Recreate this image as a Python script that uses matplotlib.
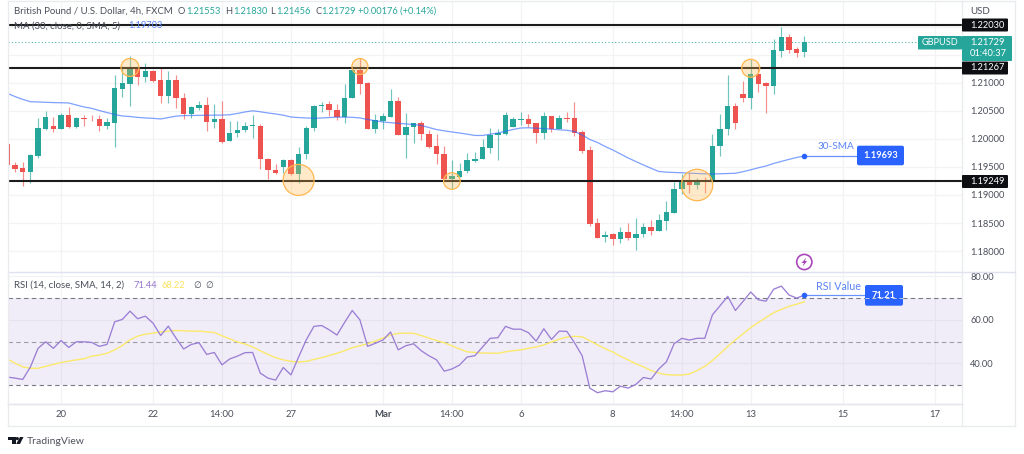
import matplotlib
matplotlib.use("Agg")
import matplotlib.pyplot as plt
from matplotlib.patches import FancyBboxPatch, Rectangle, Polygon, Circle

plt.rcParams['font.family'] = ['Lato', 'DejaVu Sans']

# ---- data -------------------------------------------------------------
opens = [1.19909,1.19535,1.19481,1.19410,1.19695,1.20177,1.20235,1.20177,1.20426,1.20212,
1.20378,1.20360,1.20355,1.20235,1.20284,1.20895,1.20984,1.21276,1.21103,1.21205,
1.21050,1.20765,1.21050,1.20734,1.20439,1.20551,1.20604,1.20296,1.20350,1.19968,
1.20100,1.20159,1.20230,1.20235,1.19647,1.19446,1.19505,1.19624,1.19374,1.19731,
1.20189,1.20587,1.20617,1.20515,1.20385,1.20724,1.21228,1.20991,1.20177,1.20319,
1.20396,1.20676,1.20070,1.20207,1.20278,1.20087,1.19874,1.19731,1.19280,1.19316,
1.19428,1.19612,1.19636,1.19843,1.20070,1.20087,1.20218,1.20342,1.20350,1.20278,
1.20100,1.20408,1.20171,1.20373,1.20367,1.20123,1.19802,1.18496,1.18246,1.18300,
1.18210,1.18335,1.18228,1.18305,1.18435,1.18364,1.18542,1.18685,1.19102,1.19244,
1.19184,1.19237,1.19237,1.19874,1.20171,1.20592,1.20795,1.20724,1.21162,1.20991,
1.20948,1.21567,1.21811,1.21603,1.21553]
highs = [1.19909,1.19583,1.19588,1.19731,1.20373,1.20497,1.20390,1.20462,1.20569,1.20390,
1.20426,1.20426,1.20426,1.20373,1.21139,1.21300,1.21478,1.21282,1.21353,1.21228,
1.21282,1.21216,1.21139,1.20818,1.20587,1.20676,1.20747,1.20622,1.20676,1.20325,
1.20325,1.20307,1.20426,1.20266,1.19660,1.19553,1.19636,1.19642,1.19850,1.20230,
1.20604,1.20663,1.20676,1.20622,1.20979,1.21300,1.21442,1.21020,1.20444,1.20467,
1.20884,1.20742,1.20456,1.20289,1.20319,1.20159,1.20087,1.19874,1.19624,1.19576,
1.19743,1.19761,1.19993,1.20189,1.20177,1.20474,1.20385,1.20480,1.20444,1.20289,
1.20485,1.20408,1.20426,1.20485,1.20652,1.20159,1.19874,1.18596,1.18364,1.18317,
1.18424,1.18496,1.18585,1.18496,1.18554,1.18661,1.18893,1.19237,1.19374,1.19398,
1.19303,1.19321,1.20087,1.20444,1.21139,1.20645,1.21032,1.21419,1.21287,1.21020,
1.21775,1.22000,1.21870,1.21644,1.21830]
lows = [1.19535,1.19415,1.19161,1.19214,1.19660,1.20159,1.20123,1.20168,1.20194,1.20194,
1.20235,1.20319,1.20141,1.20177,1.19856,1.20752,1.20587,1.20966,1.21020,1.21020,
1.20640,1.20640,1.20556,1.20355,1.20373,1.20515,1.20146,1.20200,1.19922,1.19963,
1.20034,1.20128,1.20016,1.19458,1.19285,1.19374,1.19392,1.19357,1.19219,1.19636,
1.20141,1.20485,1.20414,1.20337,1.20278,1.20724,1.20795,1.20177,1.20111,1.20171,
1.20396,1.20070,1.19654,1.19932,1.19981,1.19843,1.19553,1.19280,1.19102,1.19316,
1.19398,1.19583,1.19636,1.19743,1.19624,1.20070,1.20207,1.20248,1.20218,1.19922,
1.19993,1.20128,1.20171,1.20307,1.20052,1.19754,1.18453,1.18228,1.18168,1.18109,
1.18150,1.18198,1.18020,1.18257,1.18287,1.18364,1.18376,1.18685,1.19018,1.19030,
1.19107,1.19041,1.19219,1.19701,1.20070,1.20171,1.20663,1.20533,1.20841,1.20467,
1.20800,1.21465,1.21537,1.21455,1.21456]
closes = [1.19535,1.19464,1.19410,1.19708,1.20194,1.20385,1.20177,1.20426,1.20212,1.20373,
1.20360,1.20346,1.20235,1.20301,1.20907,1.20997,1.21276,1.21109,1.21205,1.21037,
1.20765,1.21050,1.20734,1.20439,1.20563,1.20604,1.20296,1.20350,1.19950,1.20100,
1.20159,1.20230,1.20239,1.19642,1.19446,1.19387,1.19619,1.19369,1.19731,1.20189,
1.20592,1.20610,1.20515,1.20385,1.20734,1.21228,1.20979,1.20177,1.20337,1.20408,
1.20676,1.20070,1.20218,1.20278,1.20087,1.19861,1.19726,1.19280,1.19339,1.19433,
1.19624,1.19647,1.19850,1.20070,1.20100,1.20426,1.20350,1.20355,1.20266,1.20100,
1.20408,1.20171,1.20378,1.20350,1.20111,1.19790,1.18478,1.18239,1.18292,1.18210,
1.18335,1.18228,1.18305,1.18435,1.18364,1.18549,1.18692,1.19102,1.19250,1.19184,
1.19244,1.19226,1.19879,1.20177,1.20592,1.20289,1.20724,1.21162,1.20979,1.20948,
1.21579,1.21811,1.21590,1.21537,1.21729]
sma30 = [1.20811,1.20754,1.20704,1.20663,1.20658,1.20652,1.20647,1.20644,1.20640,1.20604,
1.20569,1.20544,1.20505,1.20469,1.20435,1.20408,1.20399,1.20383,1.20373,1.20366,
1.20355,1.20380,1.20405,1.20415,1.20417,1.20419,1.20421,1.20423,1.20424,1.20430,
1.20453,1.20480,1.20501,1.20483,1.20462,1.20444,1.20423,1.20390,1.20380,1.20373,
1.20367,1.20373,1.20380,1.20387,1.20387,1.20385,1.20373,1.20346,1.20323,1.20301,
1.20289,1.20278,1.20266,1.20257,1.20239,1.20203,1.20166,1.20144,1.20123,1.20105,
1.20084,1.20061,1.20061,1.20082,1.20105,1.20136,1.20168,1.20194,1.20198,1.20191,
1.20184,1.20173,1.20162,1.20153,1.20132,1.20070,1.19989,1.19936,1.19865,1.19802,
1.19731,1.19660,1.19597,1.19535,1.19476,1.19419,1.19407,1.19401,1.19396,1.19389,
1.19383,1.19378,1.19374,1.19378,1.19383,1.19387,1.19415,1.19449,1.19485,1.19517,
1.19562,1.19599,1.19635,1.19669,1.19693]
rsi = [33.7,33.2,32.6,38.3,46.9,49.9,46.9,50.5,47.3,49.9,49.9,49.6,47.8,48.7,59.1,60.2,64.0,60.5,61.7,58.5,
52.8,57.1,51.6,46.6,48.7,49.5,44.1,45.0,39.3,42.0,43.3,44.9,45.0,35.5,33.2,32.3,38.1,34.7,42.9,50.8,
57.0,57.4,55.4,53.0,58.8,64.3,60.0,47.8,49.2,50.7,54.4,46.2,48.1,49.0,45.8,43.5,41.6,36.4,37.4,39.2,
42.9,43.5,47.5,51.5,51.8,57.0,55.7,55.7,54.1,50.2,55.9,51.0,54.8,54.7,49.5,43.5,28.6,26.5,27.4,26.9,
29.5,28.6,30.3,33.5,32.8,37.4,40.7,49.0,51.5,50.7,51.5,51.5,62.3,66.5,70.8,64.3,68.5,72.8,69.2,68.6,
74.1,75.5,71.4,70.0,71.4]
rsi_ma = [42.0,40.1,38.4,37.7,37.7,38.6,39.5,40.4,41.0,41.6,42.1,43.3,43.8,44.6,46.2,48.2,50.8,52.5,53.4,53.9,
54.4,54.8,55.1,55.0,54.8,54.8,54.5,54.2,52.7,51.3,49.8,48.9,47.5,45.8,44.1,42.6,41.6,40.9,40.6,40.9,
41.8,42.6,43.6,44.6,45.8,47.2,48.1,49.0,50.2,51.6,53.0,53.8,53.9,53.8,52.8,51.6,50.5,49.5,48.1,46.6,
45.3,45.0,44.7,44.7,44.6,45.3,45.8,46.2,46.9,47.5,48.5,49.8,51.1,52.1,52.4,52.2,50.4,48.5,46.7,45.2,
43.3,41.6,39.8,38.4,36.7,35.5,34.8,34.6,34.6,35.1,36.7,38.6,41.3,44.4,47.8,50.8,53.6,56.4,58.8,61.1,
63.3,64.8,66.2,67.2,68.3]

levels = [1.22030, 1.21267, 1.19249]
price_ticks = [1.18, 1.185, 1.19, 1.195, 1.20, 1.205, 1.21, 1.215, 1.22]
price_labels = ['1.18000','1.18500','1.19000','1.19500','1.20000','1.20500','1.21000','','']
time_pos = [7, 19, 28, 37, 49, 58, 67, 79, 88, 97, 109, 121]
time_labels = ['20','22','14:00','27','Mar','14:00','6','8','14:00','13','15','17']
rsi_ticks = [40, 60, 80]
rsi_tick_labels = ['40.00', '60.00', '80.00']
circle_idx = [16, 46, 38, 58, 90, 97]
circle_price = [1.21273, 1.21290, 1.19268, 1.19249, 1.19178, 1.21259]
circle_radius = [9, 8, 15.5, 8.3, 15.7, 9]

# ---- layout -----------------------------------------------------------
W, H = 1024, 454
GREEN, RED, BLUE = '#26a69a', '#ef5350', '#2962ff'
GRID = '#f2f3f5'
TXT = '#4a4e5a'
FS = 6.9
NUM = 6.7

fig = plt.figure(figsize=(W / 100, H / 100), dpi=100, facecolor='white')

def axes_px(l, t, r, b):
    return fig.add_axes([l / W, 1 - b / H, (r - l) / W, (b - t) / H])

ax = axes_px(8, 2, 962, 272)
ar = axes_px(8, 272, 962, 404)
XL = (0.078, 124.57)

# ---- price pane -------------------------------------------------------
n = len(closes)
xs = list(range(n))
cols = [GREEN if c >= o else RED for o, c in zip(opens, closes)]
ax.vlines(xs, lows, highs, colors=cols, lw=0.85, alpha=0.65, zorder=3)
ax.bar(xs, [max(abs(c - o), 0.00016) for o, c in zip(opens, closes)],
       bottom=[min(o, c) for o, c in zip(opens, closes)],
       width=0.72, color=cols, linewidth=0, zorder=4)
ax.plot(xs, sma30, color=BLUE, lw=0.9, alpha=0.6, zorder=5)
for lv in levels:
    ax.axhline(lv, color='#1c1c1c', lw=1.5, zorder=6)
ax.axhline(closes[-1], color=GREEN, lw=0.8, ls=(0, (1, 2)), alpha=0.8, zorder=2)
ax.scatter(circle_idx, circle_price,
           s=[(2 * r * 0.72) ** 2 for r in circle_radius],
           facecolor=(1.0, 0.72, 0.30, 0.30), edgecolor='#ffb74d', linewidth=0.9, zorder=7)
ax.scatter([xs[-1]], [sma30[-1]], s=9, color=BLUE, zorder=8)
ax.set_xlim(*XL)
ax.set_ylim(1.17627, 1.22440)
ax.set_yticks(price_ticks)
ax.set_yticklabels(price_labels)
ax.set_xticks(time_pos)
ax.tick_params(axis='x', length=0, labelbottom=False)
ax.yaxis.tick_right()
ax.tick_params(axis='y', length=0, labelsize=NUM, labelcolor=TXT, pad=5.8)
ax.grid(True, color=GRID, lw=0.9)
ax.set_axisbelow(True)

# ---- RSI pane ---------------------------------------------------------
ar.axhspan(30, 70, color='#7e57c2', alpha=0.10, lw=0, zorder=1)
for v, a in ((70, 1), (50, 0.7), (30, 1)):
    ar.axhline(v, color='#787b86', lw=0.8, ls=(0, (4, 3)), alpha=a, zorder=2)
ar.plot(xs, rsi_ma, color='#fbe96a', lw=1.0, zorder=3)
ar.plot(xs, rsi, color='#9b7fd4', lw=0.95, zorder=4)
ar.plot([xs[-1], 112], [71.21, 71.21], color=BLUE, lw=0.9, alpha=0.7, zorder=5)
ar.scatter([xs[-1]], [71.21], s=9, color=BLUE, zorder=6)
ar.set_xlim(*XL)
ar.set_ylim(21.3, 82.0)
ar.set_yticks(rsi_ticks)
ar.set_yticklabels(rsi_tick_labels)
ar.set_xticks(time_pos)
ar.set_xticklabels(time_labels)
ar.get_xticklabels()[4].set_fontweight('bold')
ar.yaxis.tick_right()
ar.tick_params(axis='y', length=0, labelsize=NUM, labelcolor=TXT, pad=5.8)
ar.tick_params(axis='x', length=0, labelsize=NUM + 0.2, labelcolor=TXT, pad=4.5)
ar.grid(True, color=GRID, lw=0.9)
ar.set_axisbelow(True)

for a in (ax, ar):
    for s in a.spines.values():
        s.set_visible(False)
ar.spines['top'].set_visible(True)
ar.spines['top'].set_color('#dfe1f0')
ar.spines['top'].set_linewidth(1.0)
ar.spines['bottom'].set_visible(True)
ar.spines['bottom'].set_color('#e6e7ec')
ar.spines['bottom'].set_linewidth(1.0)

# ---- overlay: frame, legends, tags ------------------------------------
ov = fig.add_axes([0, 0, 1, 1], facecolor='none')
ov.set_xlim(0, W)
ov.set_ylim(H, 0)
ov.axis('off')

for xy in ([(8, 1), (1015, 1)], [(8, 426), (1015, 426)], [(8, 1), (8, 426)],
           [(1015, 1), (1015, 426)], [(962, 1), (962, 426)]):
    ov.plot(*zip(*xy), color='#eaebee', lw=1.0, zorder=1)
ov.plot([8, 962], [404, 404], color='#e6e7ec', lw=1.0, zorder=1)
ov.plot([962, 1015], [272, 272], color='#dfe1f0', lw=1.0, zorder=1)

def t(x, y, s, color=TXT, size=FS, ha='left', **kw):
    ov.text(x, y, s, color=color, fontsize=size, ha=ha, va='center', zorder=20, **kw)

def box(l, tp, r, b, color, rad=0.0):
    if rad:
        ov.add_patch(FancyBboxPatch((l + rad, tp + rad), r - l - 2 * rad, b - tp - 2 * rad,
                                    boxstyle=f'round,pad={rad}', fc=color, ec='none', zorder=15))
    else:
        ov.add_patch(Rectangle((l, tp), r - l, b - tp, fc=color, ec='none', zorder=15))

t(14, 11.5, 'British Pound / U.S. Dollar, 4h, FXCM')
for x, s, c in ((178, 'O', TXT), (186, '1.21553', GREEN), (225, 'H', TXT), (233, '1.21830', GREEN),
                (270, 'L', TXT), (276, '1.21456', GREEN), (315, 'C', TXT), (321, '1.21729', GREEN),
                (358, '+0.00176 (+0.14%)', GREEN)):
    t(x, 11.5, s, color=c, size=NUM)
t(14, 26, 'MA (30, close, 0, SMA, 5)')
t(128, 26, '1.19703', color='#5b84f5', size=NUM)
t(14, 285, 'RSI (14, close, SMA, 14, 2)')
t(133, 285, '71.44', color='#9575cd', size=NUM)
t(162, 285, '68.22', color='#fbe35a', size=NUM)
t(193, 285, '∅', family=['DejaVu Sans'], size=FS - 0.5)
t(205, 285, '∅', family=['DejaVu Sans'], size=FS - 0.5)
t(970, 11, 'USD', size=NUM + 0.3)

for y, s in ((25, '1.22030'), (68, '1.21267'), (181.5, '1.19249')):
    box(962, y - 6.5, 1008, y + 6.5, '#0c0e12', rad=1)
    t(970, y, s, color='white', size=NUM)

box(918, 36, 962, 49.5, GREEN, rad=1)
t(940, 42.8, 'GBPUSD', color='white', ha='center', size=6.6)
box(962, 36, 1012, 61, GREEN, rad=1)
t(970, 42.8, '1.21729', color='white', size=NUM)
t(970, 54, '01:40:37', color='white', size=NUM)

ov.plot([804, 857], [155.7, 155.7], color=BLUE, lw=0.9, alpha=0.7, zorder=14)
t(835.5, 146.5, '30-SMA', color='#5b84f5', ha='center', size=7.2)
box(857, 145.7, 904, 165.3, BLUE, rad=2)
t(880.5, 155.5, '1.19693', color='white', ha='center', size=NUM, fontweight='bold')

t(838.5, 286, 'RSI Value', color='#5b84f5', ha='center', size=7.7)
box(865, 285, 903, 305.7, BLUE, rad=2)
t(884, 295.3, '71.21', color='white', ha='center', size=NUM, fontweight='bold')
ov.plot([865, 903], [298.3, 298.3], color='#c9cdd8', lw=0.7, ls=(0, (4, 3)), zorder=21)

ov.add_patch(Circle((804.3, 262), 7.6, fc='white', ec='#ab47bc', lw=1.2, zorder=9))
ov.add_patch(Polygon([(806.3, 257.5), (801.5, 263), (804, 263), (802.6, 266.7), (807.2, 261),
                      (804.8, 261)], closed=True, fc='#ab47bc', ec='none', zorder=10))

# TradingView logo
ov.add_patch(Polygon([(8, 437), (15.5, 437), (15.5, 444), (11.5, 444), (11.5, 440.2), (8, 440.2)],
                     closed=True, fc='#131722', ec='none', zorder=10))
ov.add_patch(Circle((17.3, 438.6), 1.6, fc='#131722', ec='none', zorder=10))
ov.add_patch(Polygon([(20, 437), (23.5, 437), (20, 444), (16.2, 444)], closed=True,
                     fc='#131722', ec='none', zorder=10))
t(27, 441, 'TradingView', color='#50535e', size=7.5)

fig.savefig('out.png', dpi=100, facecolor='white')
